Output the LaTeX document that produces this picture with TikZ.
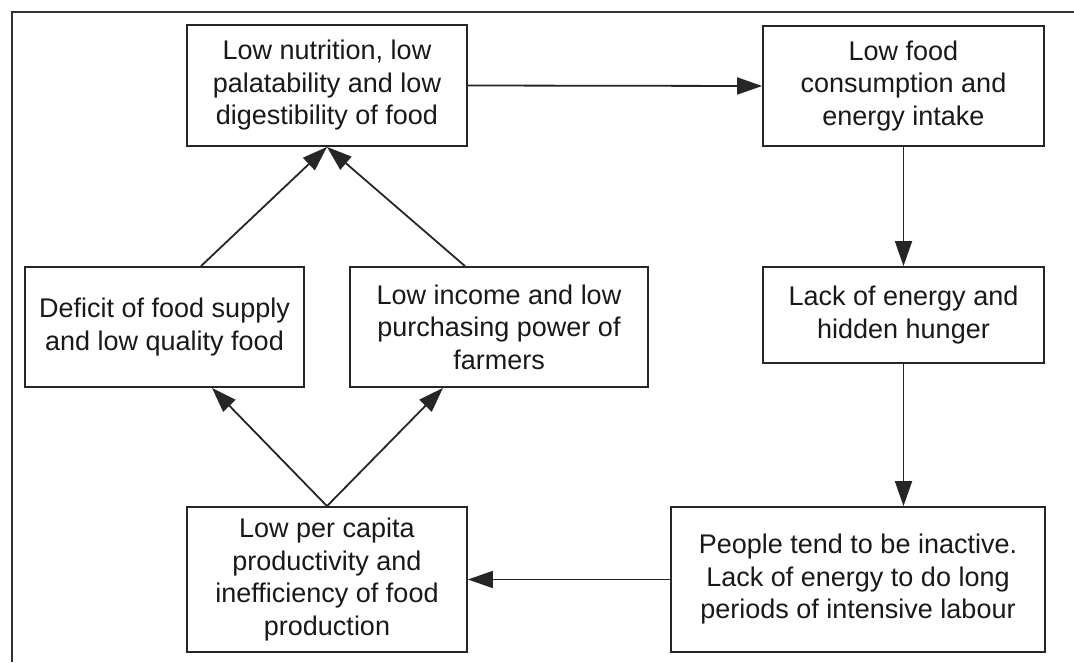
\documentclass[tikz,border=0pt]{standalone}
\usepackage{fontspec}
\setmainfont{Liberation Sans}
\usetikzlibrary{arrows.meta,calc}
\begin{document}
\begin{tikzpicture}[x=1pt,y=-1pt,
  box/.style={draw=black!85,line width=1.8pt,inner sep=0pt,align=center,
    font=\fontsize{27}{32.5}\selectfont,text=black!90},
  conn/.style={draw=black!85,line width=1.8pt,-{Triangle[length=25pt,width=17pt]}}]
\useasboundingbox (0,0) rectangle (1074,662);
\fill[white] (0,0) rectangle (1074,662);
\coordinate (fa) at (1074,12);
\coordinate (fb) at (12,12);
\coordinate (fc) at (12,662);
\draw[black!80,line width=1.5pt] (fa) -- (fb) -- (fc);
\node[box,minimum width=280pt,minimum height=121pt] (b1) at (327,85.5)
  {Low nutrition, low\\palatability and low\\digestibility of food};
\node[box,minimum width=281pt,minimum height=120pt] (b2) at (903.5,86)
  {Low food\\consumption and\\energy intake};
\node[box,minimum width=281pt,minimum height=96pt] (b3) at (903.5,315)
  {Lack of energy and\\hidden hunger};
\node[box,minimum width=279pt,minimum height=120pt] (def) at (164.5,327)
  {Deficit of food supply\\and low quality food};
\node[box,minimum width=298pt,minimum height=120pt] (inc) at (499,327)
  {Low income and low\\purchasing power of\\farmers};
\node[box,minimum width=280pt,minimum height=145pt] (cap) at (327,579.5)
  {Low per capita\\productivity and\\inefficiency of food\\production};
\node[box,minimum width=374pt,minimum height=145pt] (ppl) at (858,579.5)
  {People tend to be inactive.\\Lack of energy to do long\\periods of intensive labour};
\draw[conn] (b1.east) -- (b2.west);
\draw[conn] (b2.south) -- (b3.north);
\draw[conn] (b3.south) -- (b3.south |- ppl.north);
\draw[conn] (ppl.west) -- (cap.east);
\draw[conn] ([xshift=36.5pt]def.north) -- (b1.south);
\draw[conn] ([xshift=-34pt]inc.north) -- (b1.south);
\draw[conn] (cap.north) -- ([xshift=47.5pt]def.south);
\draw[conn] (cap.north) -- ([xshift=-56pt]inc.south);
\end{tikzpicture}
\end{document}
